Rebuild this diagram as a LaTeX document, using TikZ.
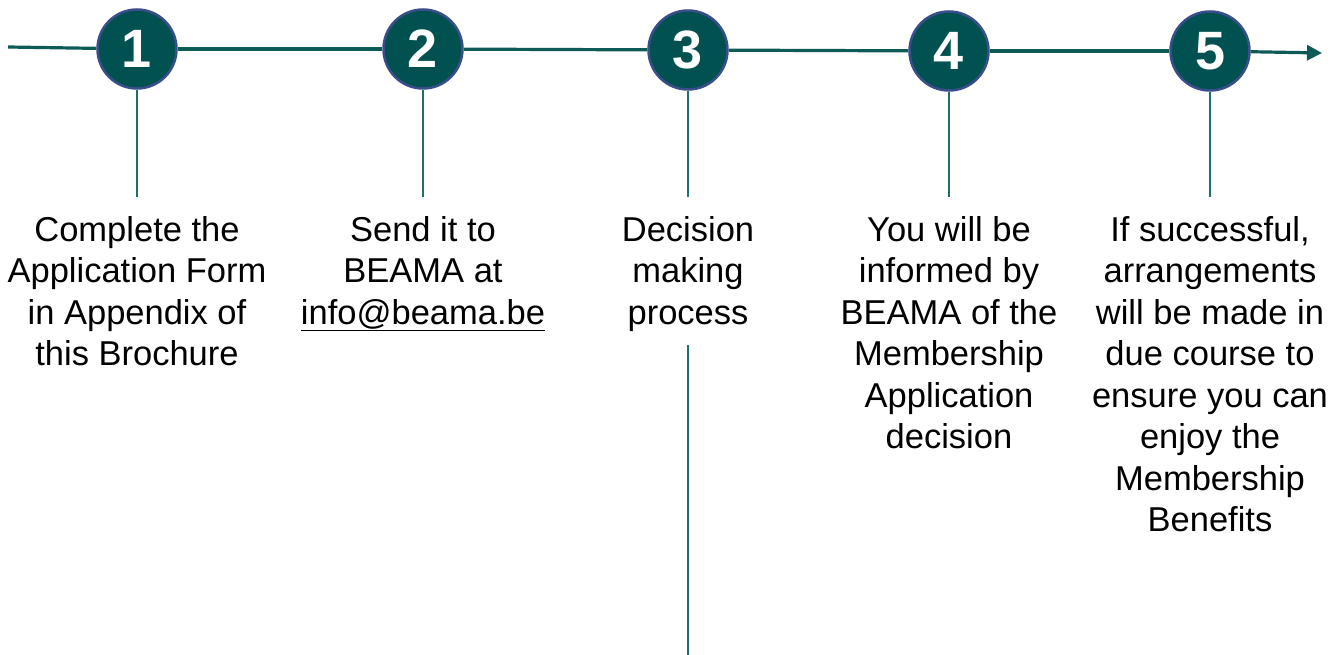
\documentclass[tikz,border=0pt]{standalone}
\usepackage{fontspec}
\setmainfont{Liberation Sans}
\usetikzlibrary{arrows.meta}
\definecolor{teal1}{HTML}{00514F}
\definecolor{rim}{HTML}{3B4E8C}
\definecolor{lineteal}{HTML}{0E5A57}
\definecolor{thinteal}{HTML}{1F6F6B}
\tikzset{
  stepcircle/.style={circle, fill=teal1, draw=rim, line width=2.5pt, minimum size=79pt, inner sep=0pt,
    text=white, font=\fontsize{54}{54}\selectfont\bfseries},
  steptext/.style={anchor=north, align=center, inner sep=0pt, text=black,
    font=\fontsize{34.5}{41.5}\selectfont},
  axis/.style={draw=lineteal, line width=3.2pt},
  drop/.style={draw=thinteal, line width=1.5pt}
}
\begin{document}
\begin{tikzpicture}[x=1pt,y=-1pt]
\useasboundingbox (0,0) rectangle (1340,655);
\coordinate (start) at (8,47);
\coordinate (end) at (1322,53);
\node[stepcircle] (c1) at (137,49) {1};
\node[stepcircle] (c2) at (423,49) {2};
\node[stepcircle] (c3) at (688,50) {3};
\node[stepcircle] (c4) at (949,51) {4};
\node[stepcircle] (c5) at (1210,51) {5};
\draw[axis] (start) -- (c1);
\draw[axis] (c1) -- (c2);
\draw[axis] (c2) -- (c3);
\draw[axis] (c3) -- (c4);
\draw[axis] (c4) -- (c5);
\draw[axis,-{Triangle[length=15pt,width=15pt]}] (c5) -- (end);
\coordinate (v1) at (137,197);
\coordinate (v2) at (423,197);
\coordinate (v3) at (688,197);
\coordinate (v4) at (949,197);
\coordinate (v5) at (1210,197);
\draw[drop] (c1.south) -- (v1);
\draw[drop] (c2.south) -- (v2);
\draw[drop] (c3.south) -- (v3);
\draw[drop] (c4.south) -- (v4);
\draw[drop] (c5.south) -- (v5);
\node[steptext] (t1) at (137,216) {Complete the\\Application Form\\in Appendix of\\this Brochure};
\node[steptext] (t2) at (423,216) {Send it to\\BEAMA at\\\underline{info@beama.be}};
\node[steptext] (t3) at (688,216) {Decision\\making\\process};
\node[steptext] (t4) at (949,216) {You will be\\informed by\\BEAMA of the\\Membership\\Application\\decision};
\node[steptext] (t5) at (1210,216) {If successful,\\arrangements\\will be made in\\due course to\\ensure you can\\enjoy the\\Membership\\Benefits};
\coordinate (a3) at (688,345);
\coordinate (b3) at (688,655);
\draw[drop] (a3) -- (b3);
\end{tikzpicture}
\end{document}
